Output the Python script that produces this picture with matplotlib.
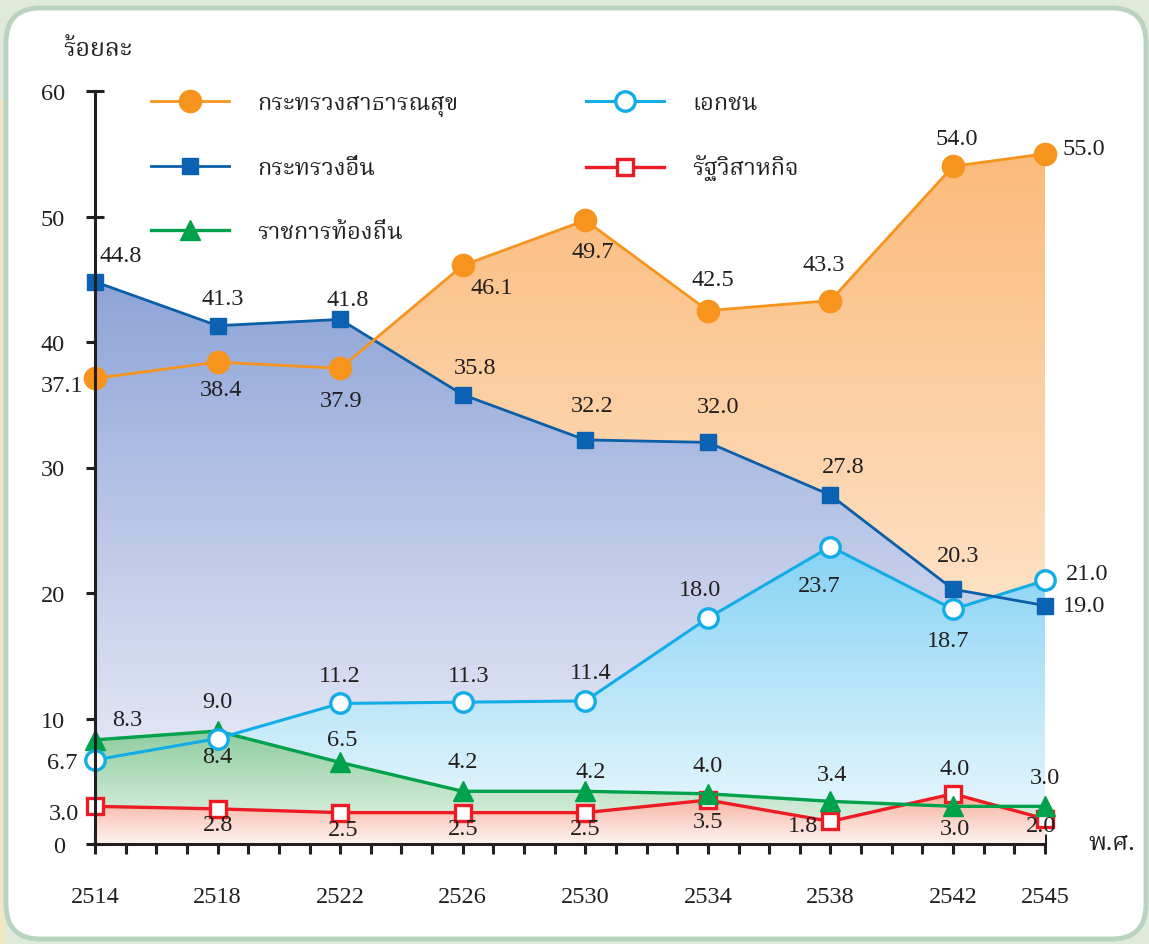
import numpy as np
import matplotlib
matplotlib.use("Agg")
import matplotlib.pyplot as plt
from matplotlib import font_manager
from matplotlib.ft2font import FT2Font
from matplotlib.colors import LinearSegmentedColormap
from matplotlib.patches import FancyBboxPatch, Rectangle

# ---------------- data ----------------
years = [2514, 2518, 2522, 2526, 2530, 2534, 2538, 2542, 2545]
all_years = list(range(2514, 2546))
yticks = [0, 10, 20, 30, 40, 50, 60]

health_ministry = [37.1, 38.4, 37.9, 46.1, 49.7, 42.5, 43.3, 54.0, 55.0]
other_ministry = [44.8, 41.3, 41.8, 35.8, 32.2, 32.0, 27.8, 20.3, 19.0]
private_sector = [6.7, 8.4, 11.2, 11.3, 11.4, 18.0, 23.7, 18.7, 21.0]
state_enterprise = [3.0, 2.8, 2.5, 2.5, 2.5, 3.5, 1.8, 4.0, 2.0]
local_gov = [8.3, 9.0, 6.5, 4.2, 4.2, 4.0, 3.4, 3.0, 3.0]

name_health = "กระทรวงสาธารณสุข"
name_other = "กระทรวงอื่น"
name_local = "ราชการท้องถิ่น"
name_private = "เอกชน"
name_state = "รัฐวิสาหกิจ"
y_title = "ร้อยละ"
x_title = "พ.ศ."

# ---------------- fonts ----------------
def find_font(code, preferred):
    names = []
    for f in font_manager.fontManager.ttflist:
        try:
            if code in FT2Font(f.fname).get_charmap():
                names.append(f.name)
        except Exception:
            pass
    for p in preferred:
        if p in names:
            return p
    return names[0] if names else "DejaVu Sans"

thai_font = find_font(0x0E01, ["Kinnari", "Norasi", "Noto Serif Thai", "TH Sarabun New",
                                "Laksaman", "Loma", "Garuda", "Noto Sans Thai", "Tlwg Typo",
                                "DejaVu Sans"])
num_font = ["Liberation Serif", "DejaVu Serif"]
thai_family = [thai_font, "Liberation Serif", "DejaVu Sans"]

TXT = "#231f20"
NUM_FS = 17.5
W, H = 1149, 945
fig = plt.figure(figsize=(W / 100, H / 100), dpi=100)
fig.patch.set_facecolor("#e0eadb")

# background panel
fig.patches.append(Rectangle((0, 0), 5 / W, 845 / H, transform=fig.transFigure,
                             facecolor="#f2e7c3", edgecolor="none", zorder=-20))
fig.patches.append(FancyBboxPatch((6 / W, 5 / H), (W - 9) / W, (H - 14) / H,
                                  boxstyle="round,pad=0,rounding_size=0.03",
                                  transform=fig.transFigure, facecolor="white",
                                  edgecolor="#b8d4c1", linewidth=3.5, zorder=-10,
                                  mutation_aspect=W / H))

ax = fig.add_axes([95 / W, 100 / H, 950 / W, 753 / H])
ax.set_zorder(5)
ax.set_facecolor("none")

# ---------------- gradient fills ----------------
def gradient_fill(x, y, c_bottom, c_top, z):
    poly = ax.fill_between(x, 0, y, facecolor="none", edgecolor="none", zorder=z)
    cmap = LinearSegmentedColormap.from_list("g", [c_bottom, c_top])
    grad = np.linspace(0, 1, 256).reshape(-1, 1)
    im = ax.imshow(grad, cmap=cmap, aspect="auto", origin="lower",
                   extent=[x[0], x[-1], 0, max(y)], zorder=z, interpolation="bilinear")
    im.set_clip_path(poly.get_paths()[0], transform=ax.transData)

gradient_fill(years, health_ministry, "#fff6ee", "#fbba7a", 1)
gradient_fill(years, other_ministry, "#f4f4fb", "#8ea4d7", 2)
gradient_fill(years, private_sector, "#f0fafe", "#86d2f4", 3)
gradient_fill(years, local_gov, "#edf7ef", "#8ecda0", 4)
gradient_fill(years, state_enterprise, "#fff5f1", "#f5ad9b", 5)

# ---------------- lines ----------------
l_red, = ax.plot(years, state_enterprise, color="#ed1c24", lw=2.4, marker="s", ms=12,
                 mfc="white", mec="#ed1c24", mew=2.4, zorder=10, clip_on=False, label=name_state)
l_green, = ax.plot(years, local_gov, color="#00a14b", lw=2.4, marker="^", ms=15,
                   mfc="#00a14b", mec="#00a14b", zorder=11, clip_on=False, label=name_local)
l_cyan, = ax.plot(years, private_sector, color="#12ace6", lw=2.2, marker="o", ms=14,
                  mfc="white", mec="#12ace6", mew=2.4, zorder=12, clip_on=False, label=name_private)
l_blue, = ax.plot(years, other_ministry, color="#0b5fa8", lw=2.0, marker="s", ms=12,
                  mfc="#0b62b2", mec="#0b62b2", zorder=13, clip_on=False, label=name_other)
l_orange, = ax.plot(years, health_ministry, color="#f7941d", lw=2.0, marker="o", ms=16,
                    mfc="#f7941d", mec="#f7941d", zorder=14, clip_on=False, label=name_health)

# ---------------- value labels ----------------
off_health = [(-12, -7, "right"), (3, -27, "center"), (1, -32, "center"), (29, -22, "center"),
              (7, -31, "center"), (5, 31, "center"), (-7, 36, "center"), (4, 28, "center"),
              (17, 5, "left")]
off_other = [(26, 26, "center"), (5, 27, "center"), (8, 20, "center"), (12, 27, "center"),
             (7, 34, "center"), (10, 36, "center"), (13, 29, "center"), (5, 34, "center"),
             (18, 0, "left")]
off_private = [(-18, -3, "right"), (0, -18, "center"), (0, 28, "center"), (6, 27, "center"),
               (5, 28, "center"), (-8, 29, "center"), (-11, -39, "center"), (-5, -31, "center"),
               (21, 7, "left")]
off_local = [(32, 20, "center"), (0, 30, "center"), (2, 23, "center"), (0, 30, "center"),
             (5, 20, "center"), (0, 28, "center"), (2, 27, "center"), (2, -22, "center"),
             (0, 29, "center")]
off_state = [(-16, -7, "right"), (0, -16, "center"), (3, -17, "center"), (0, -16, "center"),
             (0, -16, "center"), (0, -21, "center"), (-27, -4, "center"), (2, 25, "center"),
             (-4, -7, "center")]

def label_series(vals, offs):
    for x, v, (dx, dy, ha) in zip(years, vals, offs):
        ax.annotate(f"{v:.1f}", (x, v), xytext=(dx, dy), textcoords="offset pixels",
                    ha=ha, va="center", fontsize=NUM_FS, family=num_font, color=TXT,
                    zorder=20, annotation_clip=False)

label_series(health_ministry, off_health)
label_series(other_ministry, off_other)
label_series(private_sector, off_private)
label_series(local_gov, off_local)
label_series(state_enterprise, off_state)

# ---------------- axes ----------------
ax.set_xlim(2514, 2545)
ax.set_ylim(0, 60)
for s in ["top", "right"]:
    ax.spines[s].set_visible(False)
for s in ["left", "bottom"]:
    ax.spines[s].set_linewidth(2.2)
    ax.spines[s].set_color(TXT)
    ax.spines[s].set_zorder(15)

ax.set_xticks(years)
ax.set_xticklabels([str(y) for y in years])
ax.set_xticks(all_years, minor=True)
ax.set_yticks(yticks)
ax.set_yticklabels([str(v) for v in yticks])
ax.tick_params(axis="x", which="both", direction="inout", length=15, width=2.2,
               color=TXT, pad=23)
ax.tick_params(axis="y", which="both", direction="inout", length=13.5, width=2.2,
               color=TXT, pad=15)
for lab in ax.get_xticklabels() + ax.get_yticklabels():
    lab.set_fontfamily(num_font)
    lab.set_fontsize(NUM_FS)
    lab.set_color(TXT)

fig.text(98 / W, 1 - 50 / H, y_title, ha="center", va="center", fontsize=18,
         family=thai_family, color=TXT)
fig.text(1112 / W, 1 - 843 / H, x_title, ha="center", va="center", fontsize=18,
         family=thai_family, color=TXT)

# ---------------- legend ----------------
handles = [l_orange, l_blue, l_green, l_cyan, l_red]
leg = ax.legend(handles=handles, labels=[h.get_label() for h in handles], ncol=2,
                loc="upper left", bbox_to_anchor=(151 / W, 1 - 92 / H),
                bbox_transform=fig.transFigure, frameon=False, numpoints=1,
                handlelength=3.3, handletextpad=1.2, columnspacing=5.4,
                labelspacing=1.7, borderpad=0, borderaxespad=0,
                prop=font_manager.FontProperties(family=thai_family, size=17))
for t in leg.get_texts():
    t.set_color(TXT)

fig.savefig("out.png", dpi=100, facecolor=fig.get_facecolor())
